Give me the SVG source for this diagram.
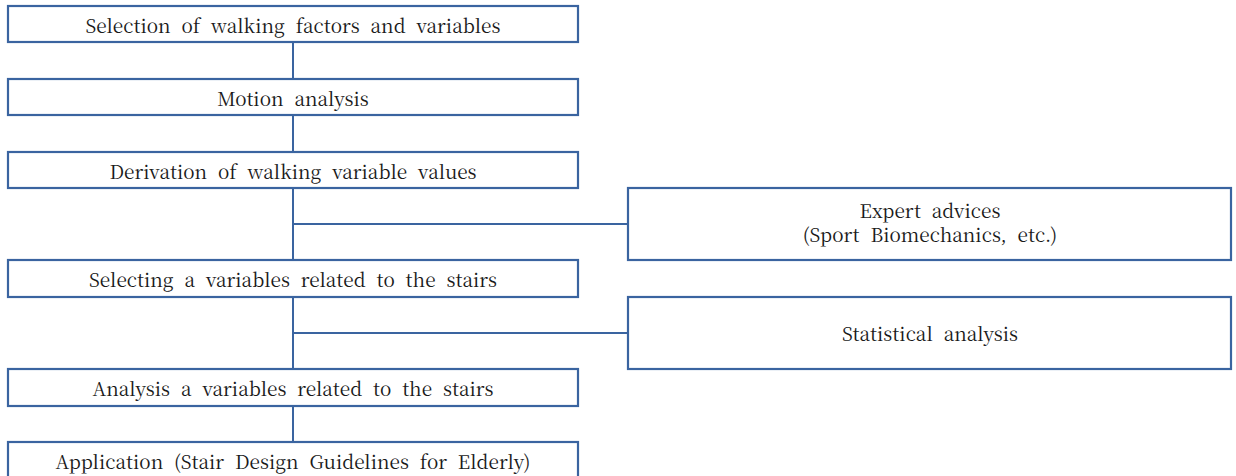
<svg xmlns="http://www.w3.org/2000/svg" width="1236" height="476" viewBox="0 0 1236 476">
<style>
.box{fill:#ffffff;stroke:#3A64A0;stroke-width:2.2}
.con{stroke:#3A64A0;stroke-width:2;fill:none}
</style>
<rect width="1236" height="476" fill="#ffffff"/>
<g id="connectors">
<path class="con" d="M293 42V79M293 115V152M293 188V260M293 224H628M293 297V369M293 333H628M293 406V442"/>
</g>
<g font-family="'Noto Serif CJK KR','Liberation Serif',serif" font-size="19" fill="#1a1a1a" text-anchor="middle" word-spacing="6">
<g id="n1"><rect class="box" x="8" y="6" width="570" height="36"/><text x="293" y="33">Selection of walking factors and variables</text></g>
<g id="n2"><rect class="box" x="8" y="79" width="570" height="36"/><text x="293" y="106">Motion analysis</text></g>
<g id="n3"><rect class="box" x="8" y="152" width="570" height="36"/><text x="293" y="179">Derivation of walking variable values</text></g>
<g id="n4"><rect class="box" x="8" y="260" width="570" height="37"/><text x="293" y="287">Selecting a variables related to the stairs</text></g>
<g id="n5"><rect class="box" x="8" y="369" width="570" height="37"/><text x="293" y="396">Analysis a variables related to the stairs</text></g>
<g id="n6"><rect class="box" x="8" y="442" width="570" height="40"/><text x="293" y="469">Application (Stair Design Guidelines for Elderly)</text></g>
<g id="n7"><rect class="box" x="628" y="188" width="603" height="72"/><text x="930" y="218">Expert advices</text><text x="930" y="242">(Sport Biomechanics, etc.)</text></g>
<g id="n8"><rect class="box" x="628" y="297" width="603" height="72"/><text x="930" y="341">Statistical analysis</text></g>
</g>
</svg>
